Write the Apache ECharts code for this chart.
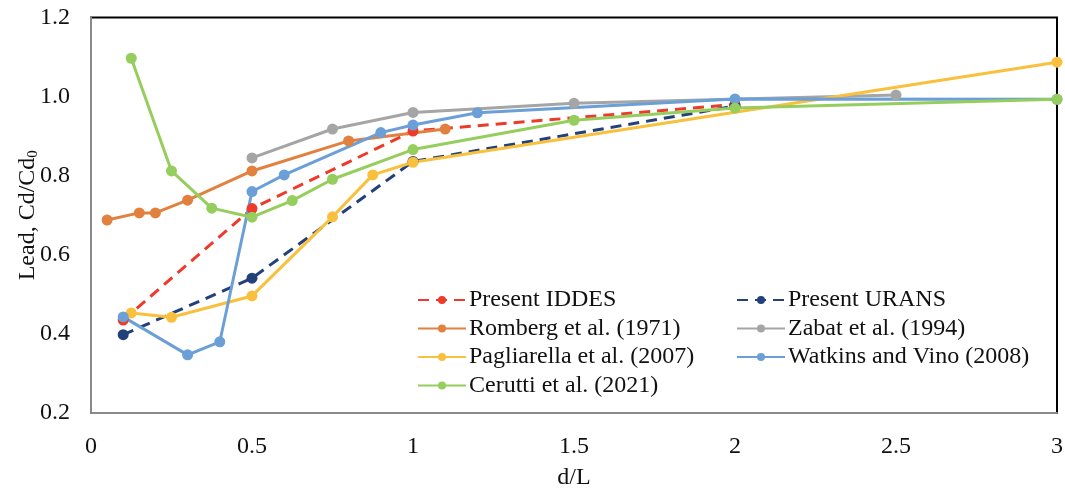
<!DOCTYPE html>
<html>
<head>
<meta charset="utf-8">
<script src="https://cdn.jsdelivr.net/npm/echarts@6/dist/echarts.min.js"></script>
<style>
  html, body { margin: 0; padding: 0; background: #fff; }
  #chart { width: 1065px; height: 488px; }
</style>
</head>
<body>
<div id="chart"></div>
<script>
  // d/L and Cd/Cd0
  const iddesX = [0.1, 0.5, 1.0, 2.0];
  const iddesY = [0.435, 0.717, 0.913, 0.98];

  const uransX = [0.1, 0.5, 1.0, 2.0];
  const uransY = [0.398, 0.541, 0.836, 0.976];

  const rombergX = [0.05, 0.15, 0.2, 0.3, 0.5, 0.8, 1.1];
  const rombergY = [0.688, 0.706, 0.706, 0.738, 0.812, 0.888, 0.918];

  const zabatX = [0.5, 0.75, 1.0, 1.5, 2.5];
  const zabatY = [0.845, 0.918, 0.96, 0.983, 1.004];

  const pagliX = [0.125, 0.25, 0.5, 0.75, 0.875, 1.0, 3.0];
  const pagliY = [0.453, 0.442, 0.496, 0.696, 0.802, 0.834, 1.087];

  const watkinsX = [0.1, 0.3, 0.4, 0.5, 0.6, 0.9, 1.0, 1.2, 2.0, 3.0];
  const watkinsY = [0.443, 0.347, 0.38, 0.76, 0.802, 0.909, 0.928, 0.959, 0.994, 0.993];

  const ceruttiX = [0.125, 0.25, 0.375, 0.5, 0.625, 0.75, 1.0, 1.5, 2.0, 3.0];
  const ceruttiY = [1.097, 0.812, 0.718, 0.695, 0.737, 0.791, 0.866, 0.94, 0.971, 0.993];

  const font = 'Liberation Serif, Times New Roman, serif';

  const pairs = (xs, ys) => xs.map((x, i) => [x, ys[i]]);

  const mkSeries = (name, xs, ys, color, dashed) => ({
    name,
    type: 'line',
    data: pairs(xs, ys),
    symbol: 'circle',
    symbolSize: 11,
    color,
    lineStyle: { color, width: 3, type: dashed ? [11, 7] : 'solid' },
    itemStyle: { color },
    emphasis: { disabled: true },
    animation: false
  });

  const series = [
    mkSeries('Present IDDES', iddesX, iddesY, '#EE3A2B', true),
    mkSeries('Present URANS', uransX, uransY, '#22407A', true),
    mkSeries('Romberg et al. (1971)', rombergX, rombergY, '#E2813F', false),
    mkSeries('Zabat et al. (1994)', zabatX, zabatY, '#A5A5A5', false),
    mkSeries('Pagliarella et al. (2007)', pagliX, pagliY, '#F9C03E', false),
    mkSeries('Watkins and Vino (2008)', watkinsX, watkinsY, '#6A9FD8', false),
    mkSeries('Cerutti et al. (2021)', ceruttiX, ceruttiY, '#95CE5C', false)
  ];

  const legendBase = {
    orient: 'vertical',
    top: 283,
    itemWidth: 48,
    itemHeight: 10,
    itemGap: 4.5,
    selectedMode: false,
    textStyle: { fontFamily: font, fontSize: 24, lineHeight: 24, color: '#111', padding: [0, 0, 0, -2] }
  };

  const chart = echarts.init(document.getElementById('chart'));
  chart.setOption({
    backgroundColor: '#fff',
    textStyle: { fontFamily: font },
    grid: {
      left: 91, right: 8, top: 17.5, bottom: 75,
      outerBoundsMode: 'none',
      show: true, borderColor: '#000', borderWidth: 2, backgroundColor: 'transparent'
    },
    legend: [
      Object.assign({}, legendBase, {
        left: 412,
        data: ['Present IDDES', 'Romberg et al. (1971)', 'Pagliarella et al. (2007)', 'Cerutti et al. (2021)']
      }),
      Object.assign({}, legendBase, {
        left: 731,
        data: ['Present URANS', 'Zabat et al. (1994)', 'Watkins and Vino (2008)']
      })
    ],
    xAxis: {
      type: 'value',
      min: 0, max: 3, interval: 0.5,
      name: 'd/L',
      nameLocation: 'middle',
      nameGap: 53,
      nameMoveOverlap: false,
      nameTextStyle: { fontFamily: font, fontSize: 24, color: '#111' },
      axisLine: { show: true, lineStyle: { color: '#8a8a8a', width: 2 } },
      axisTick: { show: false },
      splitLine: { show: false },
      axisLabel: { fontFamily: font, fontSize: 24, color: '#111', margin: 22 }
    },
    yAxis: {
      type: 'value',
      min: 0.2, max: 1.2, interval: 0.2,
      name: 'Lead, Cd/Cd{sub|0}',
      nameLocation: 'middle',
      nameGap: 50,
      nameMoveOverlap: false,
      nameTextStyle: {
        fontFamily: font, fontSize: 24, color: '#111',
        rich: { sub: { fontFamily: font, fontSize: 15, color: '#111', padding: [12, 0, 0, 0] } }
      },
      axisLine: { show: true, lineStyle: { color: '#8a8a8a', width: 2 } },
      axisTick: { show: false },
      splitLine: { show: false },
      axisLabel: {
        fontFamily: font, fontSize: 24, color: '#111', margin: 21,
        formatter: v => v.toFixed(1)
      }
    },
    series
  });
</script>
</body>
</html>
